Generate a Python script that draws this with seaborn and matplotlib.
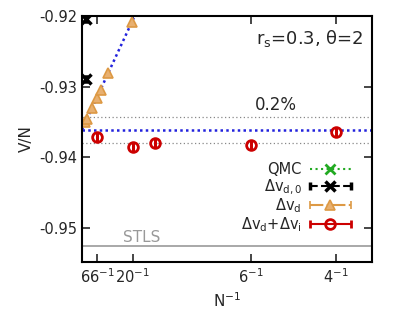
import matplotlib
matplotlib.use("Agg")
import matplotlib.pyplot as plt
import numpy as np
import seaborn as sns
from matplotlib.container import ErrorbarContainer
from matplotlib.legend_handler import HandlerErrorbar

# --- data (x = 1/N, y = V/N) ---
qmc_x = []
qmc_y = []

dvd0_x = [0.0044, 0.0044]
dvd0_y = [-0.92045, -0.92887]

dvd_x = [0.0027, 0.0052, 0.0101, 0.0145, 0.0185, 0.0254, 0.0493]
dvd_y = [-0.9350, -0.9346, -0.93305, -0.93156, -0.93049, -0.92808, -0.92078]

dvdi_x = [1 / 66, 1 / 20, 1 / 14, 1 / 6, 1 / 4]
dvdi_y = [-0.93709, -0.93847, -0.93799, -0.93823, -0.93634]

limit_value = -0.9361
stls_value = -0.95255
band = 0.002

tick_n = [66, 20, 6, 4]

sns.set_theme(style="ticks")
plt.rcParams["font.family"] = ["DejaVu Sans"]
plt.rcParams["mathtext.default"] = "regular"

fig = plt.figure(figsize=(3.99, 3.30), dpi=100)
ax = fig.add_axes([0.2055, 0.206, 0.7265, 0.7455])

# reference lines
ax.axhline(stls_value, color="#999999", lw=1.2)
ax.axhline(limit_value, color="#2222dd", ls=":", lw=1.8, dashes=(1, 1.3))
for s in (-1, 1):
    ax.axhline(limit_value * (1 + s * band), color="#888888", ls=":", lw=0.9,
               dashes=(1, 2))

# linear extrapolation of the dvd points
coef = np.polyfit(dvd_x, dvd_y, 1)
fit_x = np.array([0.0, 0.06])
sns.lineplot(x=fit_x, y=np.polyval(coef, fit_x), ax=ax, color="#2222dd",
             lw=1.8, linestyle=":", dashes=False)
ax.lines[-1].set_dashes((1, 1.3))


def series(x, y, color, marker, ls, label, **kw):
    x = np.asarray(x, dtype=float)
    y = np.asarray(y, dtype=float)
    cont = ax.errorbar(x, y, xerr=np.zeros(len(x)), fmt=marker, color=color,
                       capsize=3, ecolor=color, elinewidth=1.5, label=label,
                       ms=7, **kw)
    for coll in cont[2]:
        coll.set_linestyle(ls)
    return cont


series(qmc_x, qmc_y, "#22aa22", "x", ":", "QMC", mew=2)
series(dvd0_x, dvd0_y, "black", "x", "--", r"$\Delta v_{d,0}$", mew=2.5)
series(dvd_x, dvd_y, "#dd9944", "^", "-.", r"$\Delta v_{d}$", mfc="#e8b070",
       mew=1.2)
series(dvdi_x, dvdi_y, "#cc0000", "o", "-", r"$\Delta v_{d}$+$\Delta v_{i}$",
       mfc="none", mew=2)

ax.text(0.04, stls_value + 0.0001, "STLS", color="#999999", fontsize=11,
        va="bottom")
ax.text(0.17, limit_value * (1 - band) + 0.0003, "0.2%", fontsize=12,
        va="bottom")
ax.text(0.97, 0.95, r"$r_s$=0.3, θ=2", transform=ax.transAxes, fontsize=13,
        ha="right", va="top")

ax.set_xlim(0, 0.2855)
ax.set_ylim(-0.9548, -0.92)
ax.set_xticks([1 / n for n in tick_n])
ax.set_xticklabels([f"{n}$^{{-1}}$" for n in tick_n])
ax.set_yticks([-0.92, -0.93, -0.94, -0.95])
ax.set_yticklabels(["-0.92", "-0.93", "-0.94", "-0.95"])
ax.tick_params(direction="in", top=True, right=True, labelsize=10.5,
               length=6, width=1.2)
for sp in ax.spines.values():
    sp.set_linewidth(1.5)
    sp.set_color("black")

ax.set_xlabel("N$^{-1}$", fontsize=11)
ax.set_ylabel("V/N", fontsize=11)

ax.legend(loc="center right", bbox_to_anchor=(0.965, 0.26), frameon=False,
          markerfirst=False, fontsize=10.5, handlelength=2.9, labelspacing=0.0,
          borderpad=0.2, handletextpad=0.5,
          handler_map={ErrorbarContainer: HandlerErrorbar(xerr_size=1.4)})

fig.savefig("out.png", dpi=100)
